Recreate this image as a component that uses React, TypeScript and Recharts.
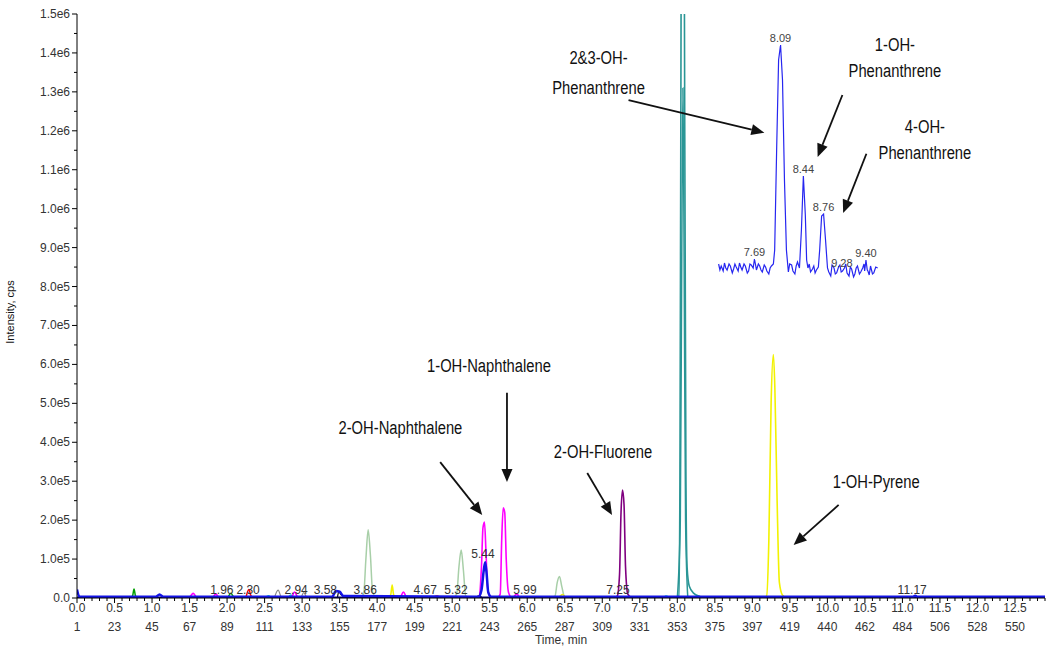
import { LineChart, Line, XAxis, YAxis, ReferenceDot, ReferenceLine } from 'recharts'

type Pt = [number, number]

// scan numbers printed under each 0.5 min tick
const scanLabels = ['1', '23', '45', '67', '89', '111', '133', '155', '177', '199', '221', '243', '265', '287',
  '309', '331', '353', '375', '397', '419', '440', '462', '484', '506', '528', '550']

// traces: [time min, intensity cps]
const tealA: Pt[] = [[7.95, 0], [8.02, 5000], [8.035, 300000], [8.05, 1500000], [8.065, 2600000], [8.08, 2600000],
  [8.095, 1500000], [8.115, 300000], [8.13, 80000], [8.16, 30000], [8.22, 12000], [8.3, 4000], [8.35, 0]]
const tealB: Pt[] = [[8.0, 0], [8.04, 200000], [8.06, 900000], [8.075, 1310000], [8.09, 900000], [8.11, 200000], [8.14, 0]]
const yellow: Pt[] = [[4.12, 0], [4.18, 8000], [4.2, 33000], [4.22, 8000], [4.27, 0], [6.4, 0], [6.47, 9000], [6.52, 0],
  [9.12, 0], [9.19, 5000], [9.22, 150000], [9.25, 500000], [9.28, 625000], [9.3, 540000], [9.33, 250000],
  [9.36, 40000], [9.4, 8000], [9.46, 0]]
const purple: Pt[] = [[7.15, 0], [7.2, 5000], [7.23, 60000], [7.25, 220000], [7.27, 277000], [7.29, 240000],
  [7.31, 80000], [7.34, 10000], [7.4, 0]]
const magenta: Pt[] = [[1.5, 0], [1.55, 12000], [1.6, 0], [1.8, 0], [1.85, 10000], [1.9, 0], [2.85, 0], [2.9, 15000],
  [2.95, 0], [4.3, 0], [4.35, 15000], [4.4, 0], [5.3, 0], [5.36, 5000], [5.39, 80000], [5.41, 180000], [5.43, 195000],
  [5.45, 120000], [5.47, 30000], [5.5, 5000], [5.6, 0], [5.64, 10000], [5.66, 150000], [5.68, 232000], [5.7, 220000],
  [5.72, 100000], [5.75, 15000], [5.8, 0], [5.86, 10000], [5.9, 0]]
const paleGreen: Pt[] = [[3.75, 0], [3.82, 10000], [3.85, 100000], [3.88, 175000], [3.91, 110000], [3.94, 15000],
  [4.0, 0], [5.0, 0], [5.06, 10000], [5.09, 80000], [5.12, 123000], [5.15, 70000], [5.18, 5000], [5.25, 0],
  [6.3, 0], [6.37, 5000], [6.4, 40000], [6.43, 55000], [6.46, 30000], [6.5, 2000], [6.6, 0]]
const green: Pt[] = [[0.7, 0], [0.74, 5000], [0.76, 23000], [0.78, 5000], [0.82, 0], [2.0, 0], [2.05, 12000], [2.1, 0],
  [3.65, 0], [3.7, 6000], [3.75, 0]]
const red: Pt[] = [[2.25, 0], [2.29, 22000], [2.32, 5000], [2.36, 0], [4.7, 0], [4.8, 5000], [4.85, 0]]
const gray: Pt[] = [[2.63, 0], [2.68, 20000], [2.73, 0], [2.98, 0], [3.02, 14000], [3.06, 0]]
const cyan: Pt[] = [[2.5, 0], [2.55, 6000], [2.6, 0], [2.8, 0], [2.85, 8000], [2.9, 0], [7.8, 0], [7.85, 5000], [7.9, 0]]
const black: Pt[] = [[3.47, 0], [3.49, 17000], [3.52, 8000], [3.6, 2000], [3.65, 0], [5.3, 0], [5.36, 6000], [5.4, 0]]
const navy: Pt[] = [[0, 1200], [12.9, 1200]]
const blue: Pt[] = [[0, 22000], [0.03, 4000], [0.18, 3000], [1.05, 3000], [1.1, 9000], [1.15, 3000], [3.4, 3000],
  [3.45, 18000], [3.5, 16000], [3.55, 5000], [5.35, 3000], [5.39, 20000], [5.42, 70000], [5.44, 92000], [5.46, 60000],
  [5.48, 15000], [5.52, 3000], [11.14, 3000], [11.17, 6000], [11.2, 3000], [12.9, 3000]]

// inset (zoomed blue trace, 7.1 - 9.6 min)
const insetTrace: Pt[] = [[7.14, 2600], [7.16, 2000], [7.18, 2400], [7.21, 1900], [7.23, 2700], [7.25, 2200],
  [7.27, 2000], [7.3, 2600], [7.32, 2400], [7.35, 1700], [7.37, 2100], [7.39, 2600], [7.41, 2300], [7.44, 1900],
  [7.46, 2700], [7.48, 2300], [7.5, 2000], [7.53, 2600], [7.55, 2400], [7.58, 1700], [7.6, 1900], [7.62, 2600],
  [7.64, 2500], [7.67, 2200], [7.69, 3100], [7.71, 2400], [7.72, 2000], [7.75, 2600], [7.77, 2400], [7.79, 2000],
  [7.81, 1800], [7.84, 2500], [7.86, 2300], [7.88, 1900], [7.91, 1600], [7.93, 2200], [7.95, 2400], [7.98, 2600],
  [8.0, 4000], [8.03, 14000], [8.06, 23000], [8.09, 24500], [8.12, 21000], [8.15, 11000], [8.18, 4000], [8.21, 1800],
  [8.23, 2600], [8.26, 2500], [8.28, 1900], [8.31, 1600], [8.33, 2400], [8.35, 2800], [8.38, 2200], [8.41, 6000],
  [8.44, 11400], [8.47, 7500], [8.49, 3000], [8.51, 2200], [8.53, 2600], [8.55, 1800], [8.58, 2100], [8.6, 2400],
  [8.62, 1700], [8.64, 2000], [8.67, 2300], [8.69, 4000], [8.72, 7400], [8.75, 7600], [8.78, 5000], [8.81, 2200],
  [8.83, 1800], [8.86, 1400], [8.88, 2500], [8.91, 2200], [8.93, 1600], [8.95, 1700], [8.98, 2300], [9.0, 2500],
  [9.02, 1800], [9.04, 1900], [9.07, 2200], [9.09, 2600], [9.11, 1700], [9.14, 1400], [9.16, 2300], [9.18, 2100],
  [9.21, 1300], [9.23, 1600], [9.25, 2200], [9.27, 2400], [9.3, 1600], [9.32, 1800], [9.35, 2200], [9.37, 2600],
  [9.38, 1900], [9.4, 3000], [9.42, 2000], [9.43, 1900], [9.45, 1500], [9.47, 2400], [9.5, 1600], [9.52, 1700],
  [9.55, 2300], [9.58, 2200]]

// retention time labels
const rtText = ['1.96', '2.30', '2.94', '3.58', '3.86', '4.67', '5.32', '5.44', '5.99', '7.25', '11.17']
const rtTime = [1.93, 2.28, 2.92, 3.31, 3.84, 4.64, 5.05, 5.41, 5.97, 7.21, 11.13]
const rtLevel = [0, 0, 0, 0, 0, 0, 0, 92000, 0, 0, 0]
const insetText = ['7.69', '8.09', '8.44', '8.76', '9.28', '9.40']
const insetTime = [7.69, 8.09, 8.44, 8.75, 9.03, 9.4]
const insetLevel = [3100, 24500, 11400, 7600, 2000, 3000]

// compound annotations (text centre, in chart units)
const notes: { lines: string[]; t: number; v: number; gap: number }[] = [
  { lines: ['2&3-OH-', 'Phenanthrene'], t: 6.95, v: 1349000, gap: 30 },
  { lines: ['1-OH-', 'Phenanthrene'], t: 10.9, v: 1387000, gap: 26 },
  { lines: ['4-OH-', 'Phenanthrene'], t: 11.3, v: 1177000, gap: 26 },
  { lines: ['1-OH-Naphthalene'], t: 5.49, v: 597000, gap: 0 },
  { lines: ['2-OH-Naphthalene'], t: 4.31, v: 437000, gap: 0 },
  { lines: ['2-OH-Fluorene'], t: 7.01, v: 375000, gap: 0 },
  { lines: ['1-OH-Pyrene'], t: 10.65, v: 298000, gap: 0 },
]
const arrows: [Pt, Pt][] = [
  [[7.35, 1279000], [9.16, 1195000]],
  [[10.2, 1292000], [9.87, 1133000]],
  [[10.52, 1141000], [10.21, 989000]],
  [[5.73, 527000], [5.73, 298000]],
  [[4.84, 349000], [5.4, 213000]],
  [[6.8, 321000], [7.13, 213000]],
  [[10.15, 239000], [9.55, 136000]],
]

const xTicks = Array.from({ length: 130 }, (_, i) => i / 10)
const yTicks = Array.from({ length: 31 }, (_, i) => i * 50000)

const axisFont = "'Liberation Sans', Arial, sans-serif"

// Arial advance widths (em), used to squeeze the notes into a narrow face
const adv: Record<string, number> = {
  '0': 0.556, '1': 0.556, '2': 0.556, '3': 0.556, '4': 0.556, '-': 0.333, '&': 0.667, O: 0.778, H: 0.722,
  P: 0.667, N: 0.722, F: 0.611, h: 0.556, e: 0.556, n: 0.556, a: 0.556, t: 0.278, r: 0.333, p: 0.556,
  l: 0.222, u: 0.556, o: 0.556, y: 0.5,
}
const narrowWidth = (s: string, size: number) =>
  s.split('').reduce((w, c) => w + (adv[c] ?? 0.556), 0) * size * 0.82

const pts = (a: Pt[]) => a.map(([t, v]) => ({ t, v }))

function XTick(props: any) {
  const { x, y, payload } = props
  const k = Math.round(payload.value * 10)
  const major = k % 5 === 0
  return (
    <g>
      <line x1={x} x2={x} y1={y} y2={y + (major ? 5 : 3)} stroke="#000" />
      {major && (
        <text x={x} y={y + 14} textAnchor="middle" fontSize={12} fontFamily={axisFont} fill="#333">
          {payload.value.toFixed(1)}
        </text>
      )}
      {major && (
        <text x={x} y={y + 33} textAnchor="middle" fontSize={12} fontFamily={axisFont} fill="#333">
          {scanLabels[k / 5]}
        </text>
      )}
    </g>
  )
}

function fmtY(v: number) {
  if (v === 0) return '0.0'
  if (v < 1000000) return (v / 100000).toFixed(1) + 'e5'
  return (v / 1000000).toFixed(1) + 'e6'
}

function YTick(props: any) {
  const { x, y, payload } = props
  const major = Math.round(payload.value / 50000) % 2 === 0
  return (
    <g>
      <line x1={x - (major ? 5 : 3)} x2={x} y1={y} y2={y} stroke="#000" />
      {major && (
        <text x={x - 7} y={y + 4} textAnchor="end" fontSize={12} fontFamily={axisFont} fill="#333">
          {fmtY(payload.value)}
        </text>
      )}
    </g>
  )
}

function Arrow(p: any) {
  const { x1, y1, x2, y2 } = p
  const a = Math.atan2(y2 - y1, x2 - x1)
  const c = Math.cos(a)
  const s = Math.sin(a)
  const bx = x2 - 13 * c
  const by = y2 - 13 * s
  const head = `${x2},${y2} ${bx - 5.5 * s},${by + 5.5 * c} ${bx + 5.5 * s},${by - 5.5 * c}`
  return (
    <g>
      <line x1={x1} y1={y1} x2={bx} y2={by} stroke="#111" strokeWidth={1.8} />
      <polygon points={head} fill="#111" />
    </g>
  )
}

function noteLabel(lines: string[], gap: number) {
  return (lp: any) => {
    const { x, y } = lp.viewBox
    const top = y - ((lines.length - 1) * gap) / 2
    return (
      <g>
        {lines.map((l, i) => (
          <text key={i} x={x} y={top + i * gap} dy="0.35em" textAnchor="middle" fontSize={18}
            fontFamily={axisFont} fill="#111" textLength={narrowWidth(l, 18)} lengthAdjust="spacingAndGlyphs">
            {l}
          </text>
        ))}
      </g>
    )
  }
}

const series: { data: Pt[]; color: string; w: number }[] = [
  { data: paleGreen, color: '#a8cfa8', w: 1.5 },
  { data: gray, color: '#8a8a8a', w: 1.2 },
  { data: cyan, color: '#00d0e0', w: 1.5 },
  { data: green, color: '#00a000', w: 1.5 },
  { data: red, color: '#ff0000', w: 1.5 },
  { data: black, color: '#000000', w: 1.2 },
  { data: yellow, color: '#f2f200', w: 1.6 },
  { data: magenta, color: '#ff00ff', w: 1.6 },
  { data: purple, color: '#800080', w: 1.6 },
  { data: tealB, color: '#2a9696', w: 1.5 },
  { data: tealA, color: '#2a9696', w: 1.6 },
  { data: navy, color: '#000080', w: 2 },
  { data: blue, color: '#1414e6', w: 2.5 },
]

export default function App() {
  return (
    <div style={{ position: 'absolute', left: 0, top: 0, width: 1050, height: 646, background: '#fff' }}>
      <LineChart width={1050} height={646} margin={{ top: 14, right: 5, bottom: 0, left: 0 }}>
        <XAxis type="number" dataKey="t" domain={[0, 12.9]} ticks={xTicks} interval={0} height={48}
          tickLine={false} tickSize={0} tickMargin={0} tick={<XTick />} axisLine={{ stroke: '#000' }} allowDataOverflow
          label={() => (
            <text x={561} y={644} textAnchor="middle" fontSize={12} fontFamily={axisFont} fill="#333">Time, min</text>
          )} />
        <YAxis type="number" domain={[0, 1500000]} ticks={yTicks} interval={0} width={77}
          tickLine={false} tickSize={0} tickMargin={0} tick={<YTick />} axisLine={{ stroke: '#000' }} allowDataOverflow
          label={() => (
            <text transform="translate(14,312) rotate(-90)" textAnchor="middle" fontSize={11} fontFamily={axisFont}
              fill="#111">Intensity, cps</text>
          )} />
        {series.map((s, i) => (
          <Line key={i} data={pts(s.data)} dataKey="v" type="monotone" stroke={s.color} strokeWidth={s.w}
            dot={false} activeDot={false} isAnimationActive={false} />
        ))}
        {rtText.map((txt, i) => (
          <ReferenceDot key={'rt' + i} x={rtTime[i]} y={rtLevel[i]} r={0} fill="none" stroke="none"
            label={{ value: txt, position: 'top', offset: 4, fontSize: 12, fontFamily: axisFont, fill: '#333' }} />
        ))}
        {arrows.map((a, i) => (
          <ReferenceLine key={'ar' + i} segment={[{ x: a[0][0], y: a[0][1] }, { x: a[1][0], y: a[1][1] }]}
            shape={Arrow} />
        ))}
        {notes.map((n, i) => (
          <ReferenceDot key={'n' + i} x={n.t} y={n.v} r={0} fill="none" stroke="none"
            label={noteLabel(n.lines, n.gap)} />
        ))}
      </LineChart>
      <div style={{ position: 'absolute', left: 716, top: 0 }}>
        <LineChart width={163} height={290} margin={{ top: 40, right: 0, bottom: 0, left: 0 }}>
          <XAxis hide type="number" dataKey="t" domain={[7.1, 9.6]} />
          <YAxis hide type="number" domain={[0, 25000]} />
          <Line data={pts(insetTrace)} dataKey="v" type="linear" stroke="#2626f0" strokeWidth={1.2}
            dot={false} activeDot={false} isAnimationActive={false} />
          {insetText.map((txt, i) => (
            <ReferenceDot key={i} x={insetTime[i]} y={insetLevel[i]} r={0} fill="none" stroke="none"
              label={{ value: txt, position: 'top', offset: 3, fontSize: 11, fontFamily: axisFont, fill: '#444' }} />
          ))}
        </LineChart>
      </div>
    </div>
  )
}
